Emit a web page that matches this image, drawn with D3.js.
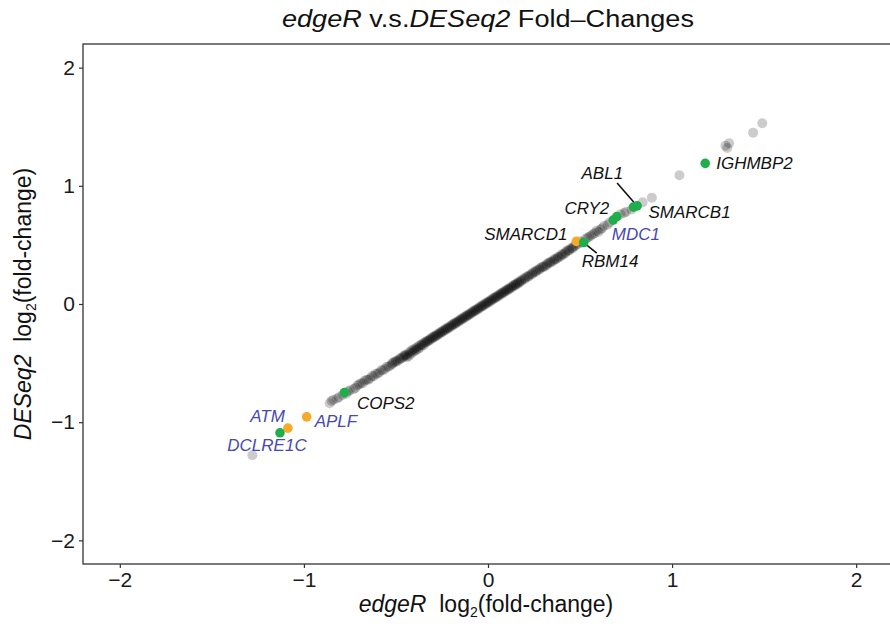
<!DOCTYPE html>
<html>
<head>
  <meta charset="utf-8">
  <script src="https://d3js.org/d3.v7.min.js"></script>
  <style>
    body { margin: 0; background: #fff; }
    text { font-family: "Liberation Sans", Arial, sans-serif; }
  </style>
</head>
<body>
<script>
  // log2 fold-changes, [edgeR, DESeq2]
  var otherGenes = [
    [-1.28,-1.28],[-0.86,-0.84],[-0.85,-0.82],[-0.84,-0.81],[-0.82,-0.80],[-0.81,-0.79],
    [-0.79,-0.77],[-0.77,-0.76],[-0.76,-0.74],[-0.75,-0.73],[-0.73,-0.72],[-0.72,-0.71],
    [-0.71,-0.69],[-0.70,-0.68],[-0.69,-0.67],[-0.68,-0.67],[-0.67,-0.65],[-0.66,-0.64],
    [-0.65,-0.64],[-0.64,-0.63],[-0.63,-0.61],[-0.62,-0.61],[-0.61,-0.59],[-0.60,-0.59],
    [-0.59,-0.58],[-0.58,-0.56],[-0.57,-0.56],[-0.56,-0.55],[-0.55,-0.53],[-0.54,-0.53],
    [-0.53,-0.52],[-0.52,-0.51],[-0.52,-0.50],[-0.51,-0.49],[-0.50,-0.48],[-0.50,-0.49],
    [-0.49,-0.48],[-0.48,-0.46],[-0.48,-0.47],[-0.47,-0.46],[-0.46,-0.45],[-0.46,-0.44],
    [-0.45,-0.43],[-0.45,-0.44],[-0.44,-0.43],[-0.44,-0.45],[-0.43,-0.41],[-0.43,-0.44],
    [-0.42,-0.42],[-0.42,-0.40],[-0.41,-0.41],[-0.41,-0.39],[-0.40,-0.40],
    [-0.40,-0.38],[-0.39,-0.39],[-0.39,-0.37],[-0.38,-0.36],[-0.38,-0.38],
    [-0.37,-0.37],[-0.37,-0.35],[-0.36,-0.35],[-0.36,-0.34],[-0.35,-0.35],
    [-0.35,-0.33],[-0.34,-0.33],[-0.34,-0.32],[-0.33,-0.32],[-0.33,-0.31],
    [-0.32,-0.31],[-0.32,-0.30],[-0.31,-0.30],[-0.31,-0.29],[-0.30,-0.29],
    [-0.30,-0.28],[-0.29,-0.28],[-0.29,-0.27],[-0.28,-0.27],[-0.28,-0.26],
    [-0.27,-0.26],[-0.27,-0.25],[-0.26,-0.25],[-0.26,-0.24],[-0.25,-0.24],
    [-0.25,-0.23],[-0.24,-0.23],[-0.24,-0.22],[-0.23,-0.22],[-0.23,-0.21],
    [-0.22,-0.21],[-0.22,-0.20],[-0.21,-0.20],[-0.21,-0.19],[-0.20,-0.19],
    [-0.20,-0.18],[-0.19,-0.18],[-0.19,-0.17],[-0.18,-0.17],[-0.18,-0.16],
    [-0.17,-0.16],[-0.17,-0.15],[-0.16,-0.15],[-0.16,-0.14],[-0.15,-0.14],
    [-0.15,-0.13],[-0.14,-0.13],[-0.14,-0.12],[-0.13,-0.12],[-0.13,-0.11],
    [-0.12,-0.11],[-0.12,-0.10],[-0.11,-0.10],[-0.11,-0.09],[-0.10,-0.09],
    [-0.10,-0.08],[-0.09,-0.08],[-0.09,-0.07],[-0.08,-0.07],[-0.08,-0.06],
    [-0.07,-0.06],[-0.07,-0.05],[-0.06,-0.05],[-0.06,-0.04],[-0.05,-0.04],
    [-0.05,-0.03],[-0.04,-0.03],[-0.04,-0.02],[-0.03,-0.02],[-0.03,-0.01],
    [-0.02,-0.01],[-0.02,0.00],[-0.01,0.00],[-0.01,0.01],[0.00,0.01],
    [0.00,0.02],[0.01,0.02],[0.01,0.03],[0.02,0.03],[0.02,0.04],
    [0.03,0.04],[0.03,0.05],[0.04,0.05],[0.04,0.06],[0.05,0.06],
    [0.05,0.07],[0.06,0.07],[0.06,0.08],[0.07,0.08],[0.07,0.09],
    [0.08,0.09],[0.08,0.10],[0.09,0.10],[0.09,0.11],[0.10,0.11],
    [0.10,0.12],[0.11,0.12],[0.11,0.13],[0.12,0.13],[0.12,0.14],
    [0.13,0.14],[0.13,0.15],[0.14,0.15],[0.14,0.16],[0.15,0.16],
    [0.15,0.17],[0.16,0.17],[0.16,0.18],[0.17,0.19],[0.17,0.18],[0.18,0.19],
    [0.18,0.20],[0.19,0.21],[0.20,0.21],[0.20,0.22],[0.21,0.23],[0.22,0.23],
    [0.22,0.24],[0.23,0.25],[0.24,0.25],[0.24,0.26],[0.25,0.27],[0.26,0.27],
    [0.26,0.28],[0.27,0.29],[0.28,0.29],[0.28,0.30],[0.29,0.31],[0.30,0.31],
    [0.30,0.32],[0.31,0.32],[0.32,0.33],[0.32,0.34],[0.33,0.35],[0.34,0.35],
    [0.34,0.36],[0.35,0.36],[0.36,0.38],[0.36,0.37],[0.37,0.38],[0.38,0.40],
    [0.38,0.39],[0.39,0.40],[0.40,0.42],[0.40,0.41],[0.41,0.42],[0.42,0.44],
    [0.42,0.43],[0.43,0.45],[0.44,0.46],[0.44,0.45],[0.45,0.47],[0.46,0.48],
    [0.46,0.47],[0.47,0.49],[0.48,0.50],[0.49,0.51],[0.50,0.53],[0.51,0.52],
    [0.53,0.55],[0.54,0.56],[0.55,0.57],[0.56,0.58],[0.57,0.59],[0.58,0.60],
    [0.59,0.62],[0.60,0.61],[0.61,0.63],[0.62,0.64],[0.63,0.66],[0.65,0.67],
    [0.66,0.69],[0.72,0.76],[0.74,0.77],[0.75,0.78],[0.78,0.80],[0.84,0.86],
    [0.89,0.90],[1.04,1.09],[1.29,1.34],[1.30,1.32],[1.31,1.36],[1.44,1.45],
    [1.49,1.53]
  ];

  var geneNames  = ["IGHMBP2","ABL1","SMARCB1","CRY2","MDC1","SMARCD1","RBM14","COPS2","APLF","ATM","DCLRE1C"];
  var geneEdgeR  = [1.18, 0.81, 0.79, 0.68, 0.70, 0.48, 0.52, -0.78, -0.985, -1.087, -1.13];
  var geneDESeq2 = [1.19, 0.83, 0.82, 0.71, 0.74, 0.53, 0.52, -0.75, -0.955, -1.05, -1.09];
  var geneGroup  = ["green","green","green","green","green","orange","green","green","orange","orange","green"];
  var labelBlue  = ["MDC1","APLF","ATM","DCLRE1C"];

  var xTicks = [-2, -1, 0, 1, 2];
  var yTicks = [-2, -1, 0, 1, 2];

  // label placement, pixels from the point
  var labelPos = {
    IGHMBP2: {dx: 11, dy: 0, anchor: "start"},
    ABL1:    {dx: -14, dy: -33, anchor: "end", line: [-20, -23]},
    SMARCB1: {dx: 15, dy: 5, anchor: "start"},
    CRY2:    {dx: -4, dy: -12, anchor: "end"},
    MDC1:    {dx: -5, dy: 17.5, anchor: "start"},
    SMARCD1: {dx: -9, dy: -7, anchor: "end"},
    RBM14:   {dx: -2, dy: 18, anchor: "start", line: [13, 10.5]},
    COPS2:   {dx: 12.5, dy: 10, anchor: "start"},
    APLF:    {dx: 8, dy: 4, anchor: "start"},
    ATM:     {dx: -3, dy: -12, anchor: "end"},
    DCLRE1C: {dx: -13, dy: 12, anchor: "middle"}
  };

  var colors = {green: "#1fae4b", orange: "#f6aa27"};

  var W = 890, H = 628;
  var pLeft = 83, pRight = 893, pTop = 44, pBottom = 564;

  var svg = d3.select("body").append("svg")
      .attr("width", W)
      .attr("height", H);

  var x = d3.scaleLinear().domain([-2.2, 2.2]).range([pLeft, pRight]);
  var y = d3.scaleLinear().domain([-2.2, 2.2]).range([pBottom, pTop]);

  var fmt = function(d) { return d < 0 ? "\u2212" + Math.abs(d) : d; };

  // axes
  var xAxis = svg.append("g")
      .attr("transform", "translate(0," + pBottom + ")")
      .call(d3.axisBottom(x).tickValues(xTicks).tickSize(4).tickPadding(4).tickFormat(fmt));
  var yAxis = svg.append("g")
      .attr("transform", "translate(" + pLeft + ",0)")
      .call(d3.axisLeft(y).tickValues(yTicks).tickSize(4).tickPadding(4).tickFormat(fmt));

  [xAxis, yAxis].forEach(function(a) {
    a.select(".domain").remove();
    a.selectAll(".tick line").attr("stroke", "#333").attr("stroke-width", 1.2);
    a.selectAll(".tick text")
      .attr("fill", "#1a1a1a")
      .style("font-size", "21px")
      .style("font-family", "'Liberation Sans', Arial, sans-serif");
  });

  // points
  svg.append("g").selectAll("circle")
      .data(otherGenes)
    .enter().append("circle")
      .attr("cx", function(d) { return x(d[0]); })
      .attr("cy", function(d) { return y(d[1]); })
      .attr("r", 5)
      .attr("fill", "#000")
      .attr("fill-opacity", 0.2);

  var genes = geneNames.map(function(g, i) {
    return {name: g, ex: geneEdgeR[i], de: geneDESeq2[i], group: geneGroup[i]};
  });

  // leader lines
  genes.forEach(function(g) {
    var p = labelPos[g.name];
    if (!p.line) return;
    svg.append("line")
      .attr("x1", x(g.ex)).attr("y1", y(g.de))
      .attr("x2", x(g.ex) + p.line[0]).attr("y2", y(g.de) + p.line[1])
      .attr("stroke", "#111").attr("stroke-width", 1.6);
  });

  svg.append("g").selectAll("circle")
      .data(genes)
    .enter().append("circle")
      .attr("cx", function(d) { return x(d.ex); })
      .attr("cy", function(d) { return y(d.de); })
      .attr("r", 4.8)
      .attr("fill", function(d) { return colors[d.group]; });

  svg.append("g").selectAll("text")
      .data(genes)
    .enter().append("text")
      .attr("x", function(d) { return x(d.ex) + labelPos[d.name].dx; })
      .attr("y", function(d) { return y(d.de) + labelPos[d.name].dy + 6; })
      .attr("text-anchor", function(d) { return labelPos[d.name].anchor; })
      .attr("fill", function(d) { return labelBlue.indexOf(d.name) >= 0 ? "#4848b0" : "#111"; })
      .style("font-size", "17px")
      .style("font-style", "italic")
      .text(function(d) { return d.name; });

  // panel border
  svg.append("rect")
      .attr("x", pLeft).attr("y", pTop)
      .attr("width", pRight - pLeft).attr("height", pBottom - pTop)
      .attr("fill", "none")
      .attr("stroke", "#333")
      .attr("stroke-width", 1.3);

  // title
  var title = svg.append("text")
      .attr("x", (pLeft + pRight) / 2)
      .attr("y", 27)
      .attr("text-anchor", "middle")
      .attr("textLength", 412)
      .attr("lengthAdjust", "spacingAndGlyphs")
      .style("font-size", "23px")
      .attr("fill", "#111");
  title.append("tspan").style("font-style", "italic").text("edgeR");
  title.append("tspan").text(" v.s.");
  title.append("tspan").style("font-style", "italic").text("DESeq2");
  title.append("tspan").text(" Fold\u2013Changes");

  // x axis title
  var xt = svg.append("text")
      .attr("x", (pLeft + pRight) / 2 - 2)
      .attr("y", 612)
      .attr("text-anchor", "middle")
      .style("font-size", "23px")
      .attr("fill", "#111");
  xt.append("tspan").style("font-style", "italic").text("edgeR");
  xt.append("tspan").text("\u00a0\u00a0log");
  xt.append("tspan").attr("dy", 5).style("font-size", "14px").text("2");
  xt.append("tspan").attr("dy", -5).text("(fold-change)");

  // y axis title
  var yt = svg.append("text")
      .attr("transform", "translate(31," + ((pTop + pBottom) / 2) + ") rotate(-90)")
      .attr("text-anchor", "middle")
      .style("font-size", "23px")
      .attr("fill", "#111");
  yt.append("tspan").style("font-style", "italic").text("DESeq2");
  yt.append("tspan").text("\u00a0\u00a0log");
  yt.append("tspan").attr("dy", 5).style("font-size", "14px").text("2");
  yt.append("tspan").attr("dy", -5).text("(fold-change)");
</script>
</body>
</html>
